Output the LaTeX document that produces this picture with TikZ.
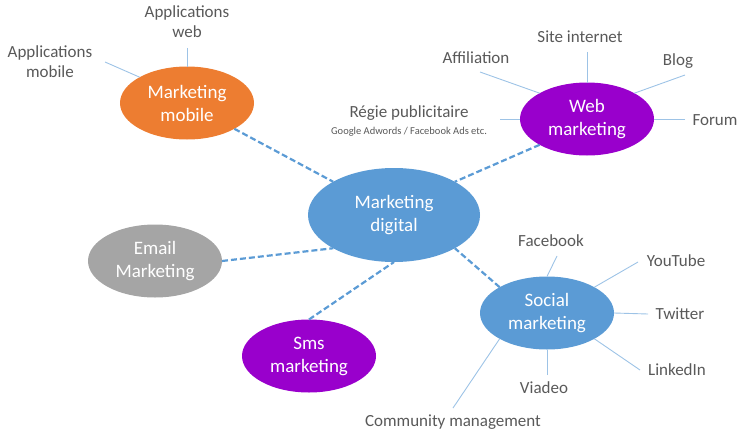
\documentclass[tikz,border=0pt]{standalone}
\usepackage{fontspec}
\setmainfont{Carlito}
\usetikzlibrary{shapes.geometric}
\definecolor{mkblue}{HTML}{5B9BD5}
\definecolor{mkorange}{HTML}{ED7D31}
\definecolor{mkgray}{HTML}{A5A5A5}
\definecolor{mkpurple}{HTML}{9900CC}
\definecolor{mktext}{HTML}{595959}
\definecolor{mkspoke}{HTML}{9DC3E6}

\begin{document}
\begin{tikzpicture}[
  x=1pt, y=-1pt,
  hub/.style={ellipse, fill=#1, text=white, align=center,
              minimum width=134pt, minimum height=73pt,
              inner sep=0pt, outer sep=0pt,
              font=\fontsize{19}{23}\selectfont},
  lbl/.style={text=mktext, align=center, inner sep=0pt,
              font=\fontsize{17}{20}\selectfont},
  link/.style={mkblue, line width=2.2pt, dash pattern=on 6pt off 3pt},
  spoke/.style={mkspoke, line width=0.9pt},
]
\useasboundingbox (0,0) rectangle (743,436);

% ---- Centre ---------------------------------------------------------------
\node[hub=mkblue, minimum width=172pt, minimum height=94pt]
  (dig) at (394,215) {Marketing\\digital};

% ---- Channels -------------------------------------------------------------
\node[hub=mkorange] (mob) at (187,103) {Marketing\\mobile};
\node[hub=mkpurple] (web) at (587,119) {Web\\marketing};
\node[hub=mkgray]   (eml) at (155,261) {Email\\Marketing};
\node[hub=mkpurple] (sms) at (309,356) {Sms\\marketing};
\node[hub=mkblue]   (soc) at (547,313) {Social\\marketing};

\draw[link] (mob.south east) -- (dig.north west);
\draw[link] (web.south west) -- (dig.north east);
\draw[link] (eml.east) -- (dig.south west);
\draw[link] (sms.north) -- (dig.south);
\draw[link] (soc.north west) -- (dig.south east);

% ---- Mobile ---------------------------------------------------------------
\node[lbl] (apm) at (50,62) {Applications\\mobile};
\node[lbl] (apw) at (187,22) {Applications\\web};
\coordinate (apm-e) at (105,62);
\coordinate (apw-e) at (187,48);

% ---- Web ------------------------------------------------------------------
\node[lbl] (aff) at (476,58) {Affiliation};
\node[lbl] (site) at (580,37) {Site internet};
\node[lbl] (blog) at (678,61) {Blog};
\node[lbl] (forum) at (715,120) {Forum};
\node[lbl] (regie) at (409,121)
  {Régie publicitaire\\[-3pt]{\fontsize{10.5}{12}\selectfont Google Adwords / Facebook Ads etc.}};
\coordinate (aff-e) at (480,72);
\coordinate (site-e) at (587,52);
\coordinate (blog-e) at (685,75);
\coordinate (forum-e) at (685,119);
\coordinate (regie-e) at (500,119);

% ---- Social ---------------------------------------------------------------
\node[lbl] (fb) at (551,241) {Facebook};
\node[lbl] (yt) at (676,261) {YouTube};
\node[lbl] (tw) at (680,314) {Twitter};
\node[lbl] (li) at (677,370) {LinkedIn};
\node[lbl] (via) at (544,388) {Viadeo};
\node[lbl] (cm) at (453,422) {Community management};
\coordinate (fb-e) at (557,256);
\coordinate (yt-e) at (638,262);
\coordinate (tw-e) at (648,314);
\coordinate (li-e) at (640,370);
\coordinate (via-e) at (547,375);
\coordinate (cm-e) at (453,408);

\foreach \a/\b in {apm/mob.north west, apw/mob.north,
                   aff/web.north west, site/web.north, blog/web.north east,
                   forum/web.east, regie/web.west,
                   fb/soc.north, yt/soc.north east, tw/soc.east,
                   li/soc.south east, via/soc.south, cm/soc.south west}
  \draw[spoke] (\a-e) -- (\b);

\end{tikzpicture}
\end{document}
